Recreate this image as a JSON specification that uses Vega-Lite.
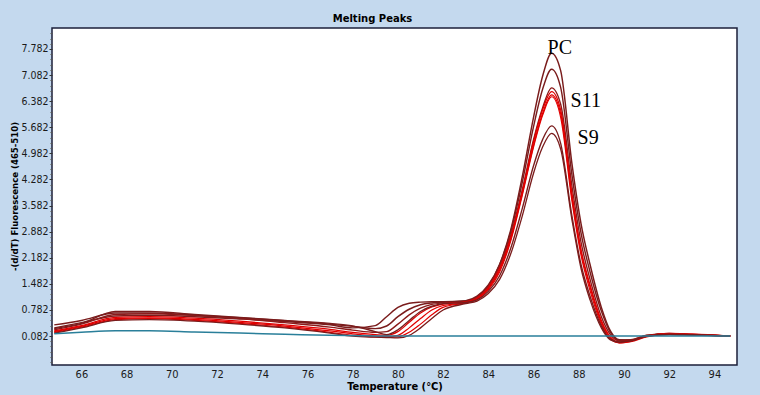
{
"$schema": "https://vega.github.io/schema/vega-lite/v6.json",
"width": 685, "height": 337,
"autosize": {"type": "none"},
"padding": {"left": 52, "top": 28, "right": 23, "bottom": 30},
"background": "#c4d9ee",
"config": {"view": {"fill": "white", "stroke": "#1b1f3a", "strokeWidth": 1.5}, "font": "Liberation Sans"},
"title": {"text": "Melting Peaks", "fontSize": 10, "fontWeight": "bold", "font": "DejaVu Sans", "color": "#000000", "frame": "group", "anchor": "middle", "dx": -22, "dy": 12, "offset": 8, "baseline": "alphabetic"},
"resolve": {"axis": {"y": "independent"}},
"datasets": {
"labels": [{"label": "PC", "t": 86.62, "v": 7.65}, {"label": "S11", "t": 87.64, "v": 6.23}, {"label": "S9", "t": 87.95, "v": 5.23}],
"curves": [
{"s":"A","t":64.8,"v":0.38},{"s":"A","t":66,"v":0.50},{"s":"A","t":67.5,"v":0.70},{"s":"A","t":69,"v":0.70},{"s":"A","t":71,"v":0.64},{"s":"A","t":73,"v":0.57},{"s":"A","t":75,"v":0.49},{"s":"A","t":77,"v":0.40},{"s":"A","t":78,"v":0.34},{"s":"A","t":79,"v":0.28},{"s":"A","t":79.5,"v":0.35},{"s":"A","t":80,"v":0.60},{"s":"A","t":80.5,"v":0.80},{"s":"A","t":81,"v":0.92},{"s":"A","t":81.5,"v":0.97},{"s":"A","t":82,"v":0.99},{"s":"A","t":83,"v":1.02},{"s":"A","t":83.5,"v":1.12},{"s":"A","t":84,"v":1.42},{"s":"A","t":84.5,"v":2.0},{"s":"A","t":85,"v":2.95},{"s":"A","t":85.5,"v":4.35},{"s":"A","t":86,"v":5.95},{"s":"A","t":86.4,"v":7.05},{"s":"A","t":86.8,"v":7.67},{"s":"A","t":87.2,"v":7.2},{"s":"A","t":87.7,"v":4.7},{"s":"A","t":88.1,"v":3.1},{"s":"A","t":88.5,"v":2.0},{"s":"A","t":89,"v":0.85},{"s":"A","t":89.4,"v":0.22},{"s":"A","t":89.8,"v":-0.02},{"s":"A","t":90.3,"v":-0.03},{"s":"A","t":91,"v":0.08},{"s":"A","t":92,"v":0.14},{"s":"A","t":93,"v":0.12},{"s":"A","t":94.7,"v":0.082},
{"s":"B","t":64.8,"v":0.30},{"s":"B","t":66,"v":0.44},{"s":"B","t":67.5,"v":0.62},{"s":"B","t":69,"v":0.64},{"s":"B","t":71,"v":0.60},{"s":"B","t":73,"v":0.54},{"s":"B","t":75,"v":0.47},{"s":"B","t":77,"v":0.38},{"s":"B","t":78,"v":0.30},{"s":"B","t":79,"v":0.36},{"s":"B","t":79.5,"v":0.60},{"s":"B","t":80,"v":0.85},{"s":"B","t":80.5,"v":0.96},{"s":"B","t":81,"v":0.99},{"s":"B","t":81.5,"v":1.0},{"s":"B","t":82,"v":1.0},{"s":"B","t":83,"v":1.03},{"s":"B","t":83.5,"v":1.15},{"s":"B","t":84,"v":1.45},{"s":"B","t":84.5,"v":2.0},{"s":"B","t":85,"v":2.9},{"s":"B","t":85.5,"v":4.2},{"s":"B","t":86,"v":5.7},{"s":"B","t":86.4,"v":6.7},{"s":"B","t":86.8,"v":7.24},{"s":"B","t":87.2,"v":6.75},{"s":"B","t":87.7,"v":4.4},{"s":"B","t":88.1,"v":2.85},{"s":"B","t":88.5,"v":1.8},{"s":"B","t":89,"v":0.75},{"s":"B","t":89.4,"v":0.18},{"s":"B","t":89.8,"v":-0.03},{"s":"B","t":90.3,"v":-0.02},{"s":"B","t":91,"v":0.1},{"s":"B","t":92,"v":0.13},{"s":"B","t":93,"v":0.11},{"s":"B","t":94.7,"v":0.082},
{"s":"C","t":64.8,"v":0.25},{"s":"C","t":66,"v":0.40},{"s":"C","t":67.5,"v":0.66},{"s":"C","t":69,"v":0.68},{"s":"C","t":71,"v":0.63},{"s":"C","t":73,"v":0.55},{"s":"C","t":75,"v":0.44},{"s":"C","t":77,"v":0.32},{"s":"C","t":78,"v":0.24},{"s":"C","t":79,"v":0.18},{"s":"C","t":79.5,"v":0.2},{"s":"C","t":80,"v":0.4},{"s":"C","t":80.5,"v":0.65},{"s":"C","t":81,"v":0.83},{"s":"C","t":81.5,"v":0.93},{"s":"C","t":82,"v":0.97},{"s":"C","t":83,"v":1.0},{"s":"C","t":83.5,"v":1.13},{"s":"C","t":84,"v":1.42},{"s":"C","t":84.5,"v":1.95},{"s":"C","t":85,"v":2.8},{"s":"C","t":85.5,"v":4.0},{"s":"C","t":86,"v":5.35},{"s":"C","t":86.4,"v":6.2},{"s":"C","t":86.8,"v":6.74},{"s":"C","t":87.2,"v":6.3},{"s":"C","t":87.7,"v":4.1},{"s":"C","t":88.1,"v":2.6},{"s":"C","t":88.5,"v":1.6},{"s":"C","t":89,"v":0.6},{"s":"C","t":89.4,"v":0.12},{"s":"C","t":89.8,"v":-0.05},{"s":"C","t":90.3,"v":-0.03},{"s":"C","t":91,"v":0.1},{"s":"C","t":92,"v":0.15},{"s":"C","t":93,"v":0.12},{"s":"C","t":94.7,"v":0.082},
{"s":"D","t":64.8,"v":0.22},{"s":"D","t":66,"v":0.36},{"s":"D","t":67.5,"v":0.58},{"s":"D","t":69,"v":0.60},{"s":"D","t":71,"v":0.56},{"s":"D","t":73,"v":0.48},{"s":"D","t":75,"v":0.38},{"s":"D","t":77,"v":0.26},{"s":"D","t":78,"v":0.18},{"s":"D","t":79,"v":0.12},{"s":"D","t":79.5,"v":0.1},{"s":"D","t":80,"v":0.2},{"s":"D","t":80.5,"v":0.45},{"s":"D","t":81,"v":0.7},{"s":"D","t":81.5,"v":0.86},{"s":"D","t":82,"v":0.94},{"s":"D","t":83,"v":1.0},{"s":"D","t":83.5,"v":1.1},{"s":"D","t":84,"v":1.38},{"s":"D","t":84.5,"v":1.9},{"s":"D","t":85,"v":2.75},{"s":"D","t":85.5,"v":3.95},{"s":"D","t":86,"v":5.3},{"s":"D","t":86.4,"v":6.15},{"s":"D","t":86.8,"v":6.64},{"s":"D","t":87.2,"v":6.15},{"s":"D","t":87.7,"v":3.9},{"s":"D","t":88.1,"v":2.4},{"s":"D","t":88.5,"v":1.45},{"s":"D","t":89,"v":0.5},{"s":"D","t":89.4,"v":0.06},{"s":"D","t":89.8,"v":-0.08},{"s":"D","t":90.3,"v":-0.05},{"s":"D","t":91,"v":0.08},{"s":"D","t":92,"v":0.14},{"s":"D","t":93,"v":0.12},{"s":"D","t":94.7,"v":0.082},
{"s":"E","t":64.8,"v":0.20},{"s":"E","t":66,"v":0.34},{"s":"E","t":67.5,"v":0.55},{"s":"E","t":69,"v":0.57},{"s":"E","t":71,"v":0.53},{"s":"E","t":73,"v":0.45},{"s":"E","t":75,"v":0.35},{"s":"E","t":77,"v":0.22},{"s":"E","t":78,"v":0.14},{"s":"E","t":79,"v":0.08},{"s":"E","t":79.5,"v":0.06},{"s":"E","t":80,"v":0.1},{"s":"E","t":80.5,"v":0.3},{"s":"E","t":81,"v":0.55},{"s":"E","t":81.5,"v":0.78},{"s":"E","t":82,"v":0.9},{"s":"E","t":83,"v":0.98},{"s":"E","t":83.5,"v":1.08},{"s":"E","t":84,"v":1.35},{"s":"E","t":84.5,"v":1.85},{"s":"E","t":85,"v":2.7},{"s":"E","t":85.5,"v":3.9},{"s":"E","t":86,"v":5.2},{"s":"E","t":86.4,"v":6.05},{"s":"E","t":86.8,"v":6.55},{"s":"E","t":87.2,"v":6.05},{"s":"E","t":87.7,"v":3.8},{"s":"E","t":88.1,"v":2.35},{"s":"E","t":88.5,"v":1.4},{"s":"E","t":89,"v":0.45},{"s":"E","t":89.4,"v":0.03},{"s":"E","t":89.8,"v":-0.1},{"s":"E","t":90.3,"v":-0.06},{"s":"E","t":91,"v":0.07},{"s":"E","t":92,"v":0.15},{"s":"E","t":93,"v":0.13},{"s":"E","t":94.7,"v":0.082},
{"s":"F","t":64.8,"v":0.18},{"s":"F","t":66,"v":0.32},{"s":"F","t":67.5,"v":0.52},{"s":"F","t":69,"v":0.55},{"s":"F","t":71,"v":0.50},{"s":"F","t":73,"v":0.42},{"s":"F","t":75,"v":0.32},{"s":"F","t":77,"v":0.18},{"s":"F","t":78,"v":0.10},{"s":"F","t":79,"v":0.06},{"s":"F","t":79.5,"v":0.05},{"s":"F","t":80,"v":0.06},{"s":"F","t":80.5,"v":0.18},{"s":"F","t":81,"v":0.4},{"s":"F","t":81.5,"v":0.65},{"s":"F","t":82,"v":0.85},{"s":"F","t":83,"v":0.97},{"s":"F","t":83.5,"v":1.06},{"s":"F","t":84,"v":1.32},{"s":"F","t":84.5,"v":1.8},{"s":"F","t":85,"v":2.65},{"s":"F","t":85.5,"v":3.85},{"s":"F","t":86,"v":5.15},{"s":"F","t":86.4,"v":6.0},{"s":"F","t":86.8,"v":6.5},{"s":"F","t":87.2,"v":5.95},{"s":"F","t":87.7,"v":3.7},{"s":"F","t":88.1,"v":2.25},{"s":"F","t":88.5,"v":1.3},{"s":"F","t":89,"v":0.4},{"s":"F","t":89.4,"v":0.0},{"s":"F","t":89.8,"v":-0.1},{"s":"F","t":90.3,"v":-0.07},{"s":"F","t":91,"v":0.06},{"s":"F","t":92,"v":0.14},{"s":"F","t":93,"v":0.13},{"s":"F","t":94.7,"v":0.082},
{"s":"G","t":64.8,"v":0.28},{"s":"G","t":66,"v":0.42},{"s":"G","t":67.5,"v":0.74},{"s":"G","t":69,"v":0.74},{"s":"G","t":71,"v":0.66},{"s":"G","t":73,"v":0.58},{"s":"G","t":75,"v":0.50},{"s":"G","t":77,"v":0.42},{"s":"G","t":78,"v":0.35},{"s":"G","t":79,"v":0.2},{"s":"G","t":79.5,"v":0.12},{"s":"G","t":80,"v":0.25},{"s":"G","t":80.5,"v":0.5},{"s":"G","t":81,"v":0.74},{"s":"G","t":81.5,"v":0.88},{"s":"G","t":82,"v":0.95},{"s":"G","t":83,"v":0.98},{"s":"G","t":83.5,"v":1.05},{"s":"G","t":84,"v":1.28},{"s":"G","t":84.5,"v":1.7},{"s":"G","t":85,"v":2.45},{"s":"G","t":85.5,"v":3.5},{"s":"G","t":86,"v":4.65},{"s":"G","t":86.4,"v":5.35},{"s":"G","t":86.8,"v":5.72},{"s":"G","t":87.2,"v":5.25},{"s":"G","t":87.7,"v":3.3},{"s":"G","t":88.1,"v":2.0},{"s":"G","t":88.5,"v":1.15},{"s":"G","t":89,"v":0.35},{"s":"G","t":89.4,"v":0.0},{"s":"G","t":89.8,"v":-0.08},{"s":"G","t":90.3,"v":-0.05},{"s":"G","t":91,"v":0.08},{"s":"G","t":92,"v":0.13},{"s":"G","t":93,"v":0.12},{"s":"G","t":94.7,"v":0.082},
{"s":"H","t":64.8,"v":0.16},{"s":"H","t":66,"v":0.30},{"s":"H","t":67.5,"v":0.50},{"s":"H","t":69,"v":0.52},{"s":"H","t":71,"v":0.48},{"s":"H","t":73,"v":0.40},{"s":"H","t":75,"v":0.30},{"s":"H","t":77,"v":0.16},{"s":"H","t":78,"v":0.08},{"s":"H","t":79,"v":0.05},{"s":"H","t":79.5,"v":0.04},{"s":"H","t":80,"v":0.03},{"s":"H","t":80.5,"v":0.1},{"s":"H","t":81,"v":0.3},{"s":"H","t":81.5,"v":0.55},{"s":"H","t":82,"v":0.78},{"s":"H","t":83,"v":0.95},{"s":"H","t":83.5,"v":1.02},{"s":"H","t":84,"v":1.22},{"s":"H","t":84.5,"v":1.6},{"s":"H","t":85,"v":2.3},{"s":"H","t":85.5,"v":3.3},{"s":"H","t":86,"v":4.45},{"s":"H","t":86.4,"v":5.15},{"s":"H","t":86.8,"v":5.52},{"s":"H","t":87.2,"v":5.1},{"s":"H","t":87.7,"v":3.2},{"s":"H","t":88.1,"v":1.9},{"s":"H","t":88.5,"v":1.05},{"s":"H","t":89,"v":0.3},{"s":"H","t":89.4,"v":-0.02},{"s":"H","t":89.8,"v":-0.08},{"s":"H","t":90.3,"v":-0.05},{"s":"H","t":91,"v":0.07},{"s":"H","t":92,"v":0.12},{"s":"H","t":93,"v":0.11},{"s":"H","t":94.7,"v":0.082},
{"s":"NC","t":64.8,"v":0.14},{"s":"NC","t":66,"v":0.18},{"s":"NC","t":67.5,"v":0.22},{"s":"NC","t":69,"v":0.22},{"s":"NC","t":71,"v":0.19},{"s":"NC","t":73,"v":0.16},{"s":"NC","t":75,"v":0.13},{"s":"NC","t":77,"v":0.10},{"s":"NC","t":79,"v":0.085},{"s":"NC","t":81,"v":0.08},{"s":"NC","t":85,"v":0.082},{"s":"NC","t":89,"v":0.082},{"s":"NC","t":92,"v":0.082},{"s":"NC","t":94.7,"v":0.082}
]
},
"encoding": {
"x": {"field": "t", "type": "quantitative", "scale": {"domain": [64.7, 95], "nice": false, "zero": false},
"axis": {"values": [66,68,70,72,74,76,78,80,82,84,86,88,90,92,94], "title": "Temperature (°C)", "grid": false, "domain": false, "ticks": false, "tickSize": 0, "labelPadding": 3, "labelFont": "DejaVu Sans Condensed, sans-serif", "labelFontSize": 11, "labelColor": "#1a1a1a", "titleFont": "DejaVu Sans Condensed, sans-serif", "titleFontSize": 11, "titleFontWeight": "bold", "titleColor": "#000000", "titleY": 24, "titleBaseline": "alphabetic"}},
"y": {"field": "v", "type": "quantitative", "scale": {"domain": [-0.696, 8.345], "nice": false, "zero": false},
"axis": {"values": [0.082,0.782,1.482,2.182,2.882,3.582,4.282,4.982,5.682,6.382,7.082,7.782], "format": ".3f", "title": "-(d/dT) Fluorescence (465-510)", "grid": false, "domain": false, "tickSize": 3, "tickColor": "#333333", "labelPadding": 1, "labelFont": "DejaVu Sans Condensed, sans-serif", "labelFontSize": 10.5, "labelColor": "#1a1a1a", "titleFont": "DejaVu Sans Condensed, sans-serif", "titleFontSize": 9.5, "titleFontWeight": "bold", "titleColor": "#000000", "titleX": -38, "titleY": 168, "titleAngle": -90, "titleAlign": "center", "titleBaseline": "middle"}}
},
"layer": [
{
"data": {"name": "curves"},
"mark": {"type": "line", "interpolate": "monotone"},
"encoding": {
"color": {"field": "s", "type": "nominal", "legend": null, "scale": {"domain": ["NC","A","B","C","G","H","D","E","F"], "range": ["#2a7f9a","#7a1c1c","#7a1c1c","#8b1a1a","#7a1c1c","#7a1c1c","#e00000","#e00000","#e00000"]}},
"strokeWidth": {"field": "s", "type": "ordinal", "legend": null, "scale": {"domain": ["NC","A","B","C","G","H","D","E","F"], "range": [1.5,1.2,1.2,1.5,1.2,1.2,2.5,2.5,2.5]}}
}
},
{
"data": {"name": "labels"},
"mark": {"type": "text", "font": "Liberation Serif", "fontSize": 20, "align": "left", "baseline": "alphabetic", "color": "#000000"},
"encoding": {
"y": {"field": "v", "type": "quantitative", "scale": {"domain": [-0.696, 8.345], "nice": false, "zero": false},
"axis": {"orient": "left", "values": [-0.618,-0.478,-0.338,-0.198,-0.058,0.222,0.362,0.502,0.642,0.922,1.062,1.202,1.342,1.622,1.762,1.902,2.042,2.322,2.462,2.602,2.742,3.022,3.162,3.302,3.442,3.722,3.862,4.002,4.142,4.422,4.562,4.702,4.842,5.122,5.262,5.402,5.542,5.822,5.962,6.102,6.242,6.522,6.662,6.802,6.942,7.222,7.362,7.502,7.642,7.922,8.062,8.202], "labels": false, "title": null, "domain": false, "grid": false, "tickSize": 2, "tickColor": "#555555"}},
"text": {"field": "label"}
}
}
]
}
